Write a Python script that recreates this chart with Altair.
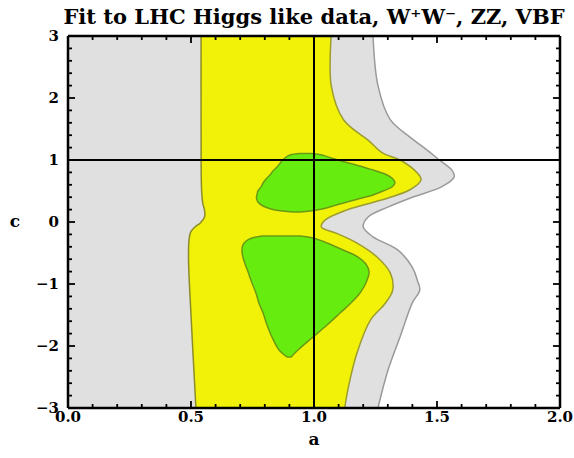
import altair as alt
import pandas as pd

# ---------------- data ----------------
# outer (grey / white) contour: a as a function of c
gray_c = [3.0, 2.2, 1.65, 1.37, 1.16, 1.0, 0.84, 0.73, 0.57, 0.4, 0.24, 0.08,
          -0.08, -0.24, -0.45, -0.73, -0.94, -1.1, -1.3, -1.85, -2.4, -3.0]
gray_a = [1.24, 1.26, 1.31, 1.39, 1.46, 1.51, 1.56, 1.57, 1.52, 1.40, 1.30, 1.22,
          1.20, 1.24, 1.34, 1.40, 1.42, 1.43, 1.40, 1.35, 1.30, 1.26]

# yellow / grey contour on the right
yel_c = [3.0, 2.2, 1.65, 1.32, 1.11, 1.0, 0.79, 0.68, 0.52, 0.35, 0.19, 0.03,
         -0.08, -0.18, -0.34, -0.56, -0.82, -1.1, -1.31, -1.58, -2.11, -2.66, -3.0]
yel_a = [1.07, 1.07, 1.12, 1.22, 1.28, 1.35, 1.42, 1.435, 1.39, 1.27, 1.13, 1.045,
         1.03, 1.09, 1.175, 1.255, 1.31, 1.32, 1.29, 1.23, 1.175, 1.14, 1.125]

# grey / yellow contour on the left
left_c = [3.0, 1.5, 0.52, 0.3, 0.19, 0.08, -0.02, -0.08, -0.16, -0.29, -0.61, -1.5, -3.0]
left_a = [0.541, 0.541, 0.543, 0.548, 0.555, 0.555, 0.537, 0.516, 0.499, 0.492, 0.490, 0.500, 0.520]

# upper green island
g1_c = [1.105, 1.081, 1.032, 0.968, 0.887, 0.823, 0.758, 0.694, 0.629, 0.565, 0.5,
        0.435, 0.387, 0.323, 0.258, 0.21, 0.177, 0.161]
g1_lo = [0.943, 0.902, 0.882, 0.866, 0.850, 0.833, 0.821, 0.805, 0.793, 0.785, 0.772,
         0.768, 0.766, 0.772, 0.793, 0.825, 0.874, 0.915]
g1_hi = [0.992, 1.033, 1.069, 1.126, 1.199, 1.252, 1.297, 1.321, 1.329, 1.317, 1.280,
         1.240, 1.195, 1.134, 1.077, 1.033, 0.984, 0.943]

# lower green island
g2_c = [-0.226, -0.258, -0.306, -0.371, -0.452, -0.565, -0.677, -0.806, -0.984, -1.145,
        -1.306, -1.468, -1.661, -1.855, -2.065, -2.177]
g2_lo = [0.789, 0.748, 0.724, 0.711, 0.707, 0.711, 0.720, 0.732, 0.748, 0.764,
         0.776, 0.793, 0.809, 0.829, 0.858, 0.890]
g2_hi = [0.943, 0.996, 1.033, 1.073, 1.118, 1.179, 1.211, 1.224, 1.211, 1.187,
         1.150, 1.106, 1.053, 0.996, 0.935, 0.907]

# reference (SM) lines
cross_a = [1.0]
cross_c = [1.0]

# axis ticks and labels
x_major = [0.0, 0.5, 1.0, 1.5, 2.0]
x_minor = [0.1, 0.2, 0.3, 0.4, 0.6, 0.7, 0.8, 0.9, 1.1, 1.2, 1.3, 1.4, 1.6, 1.7, 1.8, 1.9]
y_major = [-3, -2, -1, 0, 1, 2, 3]
y_minor = [-2.8, -2.6, -2.4, -2.2, -1.8, -1.6, -1.4, -1.2, -0.8, -0.6, -0.4, -0.2,
           0.2, 0.4, 0.6, 0.8, 1.2, 1.4, 1.6, 1.8, 2.2, 2.4, 2.6, 2.8]

TITLE = "Fit to LHC Higgs like data, W\u207aW\u207b, ZZ, VBF"
X_TITLE = "a"
Y_TITLE = "c"

# ---------------- styling ----------------
W, H = 492, 372
X_DOM = [0, 2]
Y_DOM = [-3, 3]
FONT = "DejaVu Serif"
GRAY = "#e0e0e0"
YELLOW = "#f2f208"
GREEN = "#66ec0e"
MAJ, MIN = 7, 4

xs = alt.Scale(domain=X_DOM, nice=False, zero=False)
ys = alt.Scale(domain=Y_DOM, nice=False, zero=False)

def X(field):
    return alt.X(field, type="quantitative", scale=xs, axis=None)

def Y(field):
    return alt.Y(field, type="quantitative", scale=ys, axis=None)

df_gray = pd.DataFrame({"c": gray_c, "a": gray_a})
df_yel = pd.DataFrame({"c": yel_c, "a": yel_a})
df_left = pd.DataFrame({"c": left_c, "a": left_a})
df_g1 = pd.DataFrame({"c": g1_c, "lo": g1_lo, "hi": g1_hi})
df_g2 = pd.DataFrame({"c": g2_c, "lo": g2_lo, "hi": g2_hi})

interp = "catmull-rom"

def band(df, color):
    return alt.Chart(df).mark_area(
        orient="horizontal", interpolate=interp, color=color, opacity=1, clip=True
    ).encode(x=X("a"), x2=alt.value(0), y=Y("c"))

gray_area = band(df_gray, GRAY)
yel_area = band(df_yel, YELLOW)
left_area = band(df_left, GRAY)

def island(df):
    return alt.Chart(df).mark_area(
        orient="horizontal", interpolate=interp, fill=GREEN, opacity=1,
        stroke="#6a9a14", strokeWidth=1.5, clip=True
    ).encode(x=X("lo"), x2="hi:Q", y=Y("c"))

g1_area = island(df_g1)
g2_area = island(df_g2)

def boundary(df, color):
    return alt.Chart(df).mark_line(
        interpolate=interp, color=color, strokeWidth=1.5, clip=True
    ).encode(x=X("a"), y=Y("c"), order="c:Q")

left_line = boundary(df_left, "#8c8c28")
yel_line = boundary(df_yel, "#9c9c30")
gray_line = boundary(df_gray, "#9a9a9a")

vrule = alt.Chart(pd.DataFrame({"a": cross_a})).mark_rule(
    color="black", strokeWidth=2).encode(x=X("a"))
hrule = alt.Chart(pd.DataFrame({"c": cross_c})).mark_rule(
    color="black", strokeWidth=2).encode(y=Y("c"))

# inward frame ticks (Mathematica style) on all four sides;
# tick length is a pixel style, converted to data units of each scale
px_y = (Y_DOM[1] - Y_DOM[0]) / H
px_x = (X_DOM[1] - X_DOM[0]) / W

def xticks(vals, size):
    d = pd.DataFrame({"xt": vals})
    d["b0"] = Y_DOM[0]
    d["b1"] = Y_DOM[0] + size * px_y
    d["t0"] = Y_DOM[1]
    d["t1"] = Y_DOM[1] - size * px_y
    base = alt.Chart(d).mark_rule(color="black", strokeWidth=1.8)
    return [base.encode(x=X("xt"), y=Y("b0"), y2="b1:Q"),
            base.encode(x=X("xt"), y=Y("t0"), y2="t1:Q")]

def yticks(vals, size):
    d = pd.DataFrame({"yt": vals})
    d["l0"] = X_DOM[0]
    d["l1"] = X_DOM[0] + size * px_x
    d["r0"] = X_DOM[1]
    d["r1"] = X_DOM[1] - size * px_x
    base = alt.Chart(d).mark_rule(color="black", strokeWidth=1.8)
    return [base.encode(y=Y("yt"), x=X("l0"), x2="l1:Q"),
            base.encode(y=Y("yt"), x=X("r0"), x2="r1:Q")]

# frame
frame_df = pd.DataFrame({"k": [0]})
def edge(**enc):
    return alt.Chart(frame_df).mark_rule(color="black", strokeWidth=2.5).encode(**enc)

frame = [
    edge(x=alt.value(0), x2=alt.value(W), y=alt.value(0)),
    edge(x=alt.value(0), x2=alt.value(W), y=alt.value(H)),
    edge(x=alt.value(0), y=alt.value(0), y2=alt.value(H)),
    edge(x=alt.value(W), y=alt.value(0), y2=alt.value(H)),
]

# tick labels and axis titles
txt = dict(font=FONT, fontWeight="bold", color="black")
x_labels = alt.Chart(pd.DataFrame({"v": x_major})).mark_text(
    fontSize=15, align="center", baseline="top", **txt
).encode(x=X("v"), y=alt.value(H + 2), text=alt.Text("v:Q", format=".1f"))
y_labels = alt.Chart(pd.DataFrame({"v": y_major})).mark_text(
    fontSize=15, align="right", baseline="middle", **txt
).encode(y=Y("v"), x=alt.value(-9), text=alt.Text("v:Q", format="d"))

x_title = alt.Chart(pd.DataFrame({"t": [X_TITLE]})).mark_text(
    fontSize=17, align="center", baseline="middle", **txt
).encode(x=alt.value(W / 2), y=alt.value(H + 32), text="t:N")
y_title = alt.Chart(pd.DataFrame({"t": [Y_TITLE]})).mark_text(
    fontSize=17, align="center", baseline="middle", **txt
).encode(x=alt.value(-53), y=alt.value(H / 2), text="t:N")

layers = [gray_area, yel_area, left_area, g1_area, g2_area,
          left_line, yel_line, gray_line, vrule, hrule]
layers += frame
layers += xticks(x_major, MAJ) + xticks(x_minor, MIN)
layers += yticks(y_major, MAJ) + yticks(y_minor, MIN)
layers += [x_labels, y_labels, x_title, y_title]

chart = alt.layer(*layers).properties(
    width=W, height=H,
    title=alt.TitleParams(text=TITLE, font=FONT, fontSize=21, fontWeight="bold",
                          color="black", anchor="middle", frame="group", offset=1),
    autosize=alt.AutoSizeParams(type="none"),
    padding={"left": 68, "top": 36, "right": 14, "bottom": 50},
    background="white",
).configure_view(strokeWidth=0)

chart.save("out.html", embed_options={"renderer": "svg", "actions": False})
